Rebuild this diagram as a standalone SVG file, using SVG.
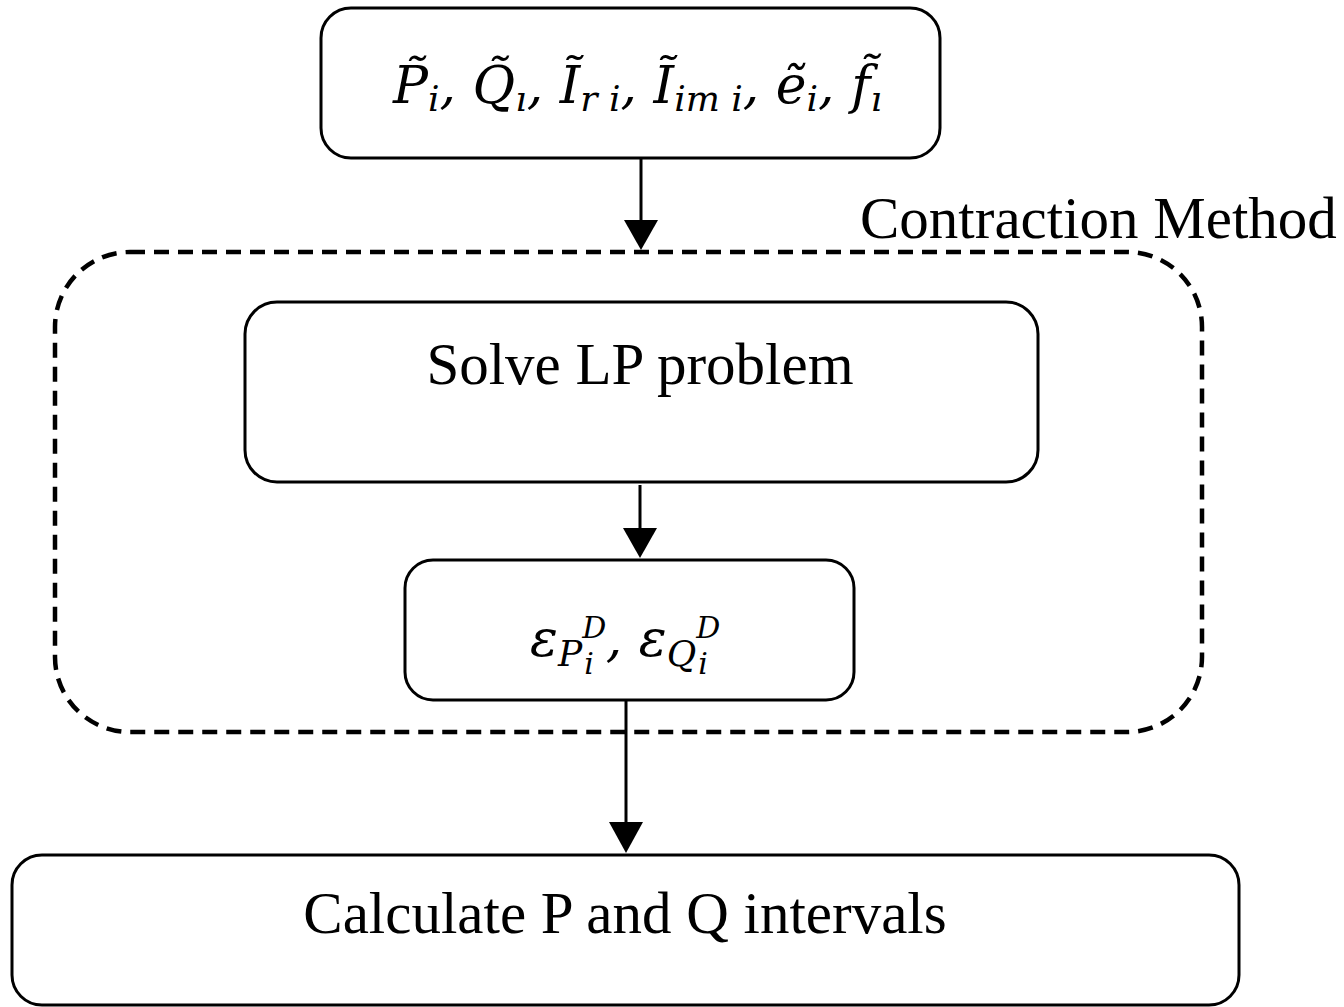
<svg xmlns="http://www.w3.org/2000/svg" width="1344" height="1007" viewBox="0 0 1344 1007">
<style>
.box{fill:#fff;stroke:#000;stroke-width:3}
.t{font-family:"Liberation Serif",serif;font-size:59px;fill:#000}
.m{font-family:"DejaVu Serif","Liberation Serif",serif;font-style:italic;fill:#000}
.c{stroke:#000;stroke-width:3;fill:none}
</style>
<rect width="1344" height="1007" fill="#fff"/>
<g id="contraction">
<rect x="55" y="252" width="1147" height="480" rx="75" ry="75" fill="none" stroke="#000" stroke-width="4.5" stroke-dasharray="15,9"/>
<text class="t" x="860" y="238" font-size="56">Contraction Method</text>
</g>
<g id="connectors">
<line class="c" x1="641" y1="158" x2="641" y2="220"/>
<path d="M624,220 L658,220 L641,250 Z" fill="#000"/>
<line class="c" x1="640" y1="485" x2="640" y2="528"/>
<path d="M623,528 L657,528 L640,558 Z" fill="#000"/>
<line class="c" x1="626" y1="700" x2="626" y2="822"/>
<path d="M609,822 L643,822 L626,853 Z" fill="#000"/>
</g>
<g id="inputs">
<rect class="box" x="321" y="8" width="619" height="150" rx="30" ry="30"/>
<text class="m" x="393" y="103" font-size="52">P̃<tspan font-size="36" dy="8">i</tspan><tspan dy="-8">, Q̃</tspan><tspan font-size="36" dy="8">ı</tspan><tspan dy="-8">, Ĩ</tspan><tspan font-size="36" dy="8">r i</tspan><tspan dy="-8">, Ĩ</tspan><tspan font-size="36" dy="8">im i</tspan><tspan dy="-8">,  ẽ</tspan><tspan font-size="36" dy="8">i</tspan><tspan dy="-8">, f̃</tspan><tspan font-size="36" dy="8">ı</tspan></text>
</g>
<g id="solve">
<rect class="box" x="245" y="302" width="793" height="180" rx="32" ry="32"/>
<text class="t" x="640" y="384" text-anchor="middle">Solve LP problem</text>
</g>
<g id="eps">
<rect class="box" x="405" y="560" width="449" height="140" rx="28" ry="28"/>
<text class="m" x="530" y="656" font-size="52">ε<tspan font-size="36" dy="10">P</tspan><tspan font-size="30" dy="-28">D</tspan><tspan font-size="30" dx="-22" dy="36">i</tspan><tspan dx="12" dy="-18">, ε</tspan><tspan font-size="36" dy="10">Q</tspan><tspan font-size="30" dy="-28">D</tspan><tspan font-size="30" dx="-22" dy="36">i</tspan></text>
</g>
<g id="calc">
<rect class="box" x="12" y="855" width="1227" height="150" rx="30" ry="30"/>
<text class="t" x="625" y="933" text-anchor="middle">Calculate P and Q intervals</text>
</g>
</svg>
